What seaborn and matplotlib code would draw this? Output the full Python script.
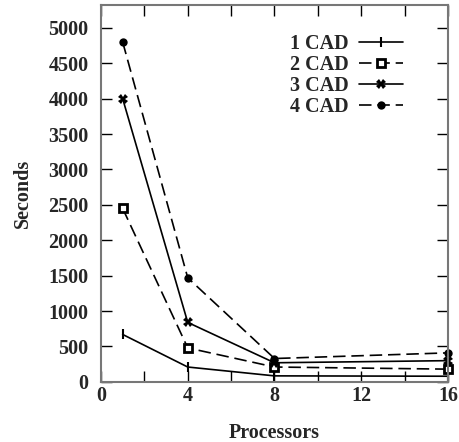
import matplotlib
matplotlib.use('Agg')
import matplotlib.pyplot as plt
from matplotlib.ticker import MultipleLocator, FixedLocator
import seaborn as sns

# processors vs. runtime
procs = [1, 4, 8, 16]
cad1 = [670, 210, 85, 80]
cad2 = [2450, 480, 210, 180]
cad3 = [4000, 840, 270, 300]
cad4 = [4800, 1470, 330, 410]
labels = ['1 CAD', '2 CAD', '3 CAD', '4 CAD']

sns.set_style('ticks')
plt.rcParams['font.family'] = ['Liberation Serif', 'DejaVu Serif']
plt.rcParams['font.weight'] = 'bold'
plt.rcParams['axes.labelweight'] = 'bold'

fig = plt.figure(figsize=(4.59, 4.42), dpi=100)
ax = fig.add_axes([0.22, 0.136, 0.756, 0.853])

dash = (7.5, 3.5)
styles = [
    dict(marker='|', ms=7, mew=1.5, mfc='black', dashes=''),
    dict(marker='s', ms=6, mew=2, mfc='white', dashes=dash),
    dict(marker='X', ms=7, mew=0, mfc='black', dashes=''),
    dict(marker='o', ms=6, mew=0, mfc='black', dashes=dash),
]
for ys, lab, st in zip([cad1, cad2, cad3, cad4], labels, styles):
    d = st.pop('dashes')
    sns.lineplot(x=procs, y=ys, ax=ax, color='black', lw=1.2,
                 label=lab, mec='black', clip_on=False, **st)
    if d:
        ax.lines[-1].set_dashes(d)
    else:
        ax.lines[-1].set_linestyle('-')

ax.set_xlim(0, 16)
ax.set_ylim(0, 5325)
ax.xaxis.set_major_locator(FixedLocator([0, 4, 8, 12, 16]))
ax.xaxis.set_minor_locator(FixedLocator([2, 6, 10, 14]))
ax.yaxis.set_major_locator(MultipleLocator(500))

ax.tick_params(axis='both', which='both', direction='in', length=8, width=1,
               color='black', top=True, right=True, labelsize=14.5)
ax.tick_params(axis='x', which='major', pad=3)
ax.tick_params(axis='y', which='major', pad=9)
for s in ax.spines.values():
    s.set_color('#777777')
    s.set_linewidth(1.5)

ax.set_xlabel('Processors', fontsize=14.5, labelpad=12)
ax.set_ylabel('Seconds', fontsize=14.5, labelpad=11)

ax.legend(loc='upper right', bbox_to_anchor=(0.894, 0.945), frameon=False,
          markerfirst=False, fontsize=14.5, handlelength=2.2,
          handletextpad=0.5, labelspacing=0.05, borderaxespad=0)

fig.savefig('out.png', dpi=100)
